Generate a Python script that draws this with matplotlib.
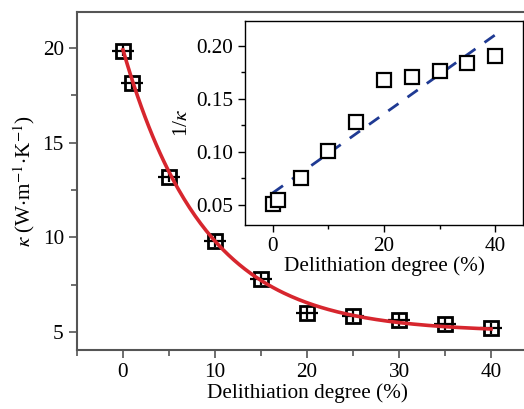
import numpy as np
import matplotlib
matplotlib.use('Agg')
import matplotlib.pyplot as plt
from matplotlib.ticker import MultipleLocator

plt.rcParams['font.family'] = ['Liberation Serif', 'DejaVu Serif']
plt.rcParams['mathtext.fontset'] = 'stix'
plt.rcParams['font.size'] = 15.3

# main panel: thermal conductivity vs delithiation degree
deg = [0, 1, 5, 10, 15, 20, 25, 30, 35, 40]
kappa = [19.85, 18.15, 13.2, 9.8, 7.8, 6.0, 5.85, 5.63, 5.42, 5.2]
# exponential decay fit  kappa = y0 + A*exp(-x/t)
fit_y0, fit_A, fit_t = 5.0, 14.9, 8.83

# inset: 1/kappa with linear fit
inv_kappa = [0.051, 0.055, 0.075, 0.101, 0.128, 0.168, 0.171, 0.176, 0.184, 0.191]
lin_b, lin_m = 0.0613, 0.00373

fig = plt.figure(figsize=(5.24, 4.09), dpi=100)
ax = fig.add_axes([77/524, 59/409, 460/524, 338/409])

xs = np.linspace(0, 40, 200)
ax.plot(xs, fit_y0 + fit_A*np.exp(-xs/fit_t), c='#d7262e', lw=2.6, zorder=3)
ax.errorbar(deg, kappa, xerr=1.2, yerr=0.3, fmt='s', ms=10, mfc='none',
            mec='black', mew=2.0, ecolor='black', elinewidth=1.6, capsize=0, zorder=2)

ax.set_xlim(-5, 45)
ax.set_ylim(4.05, 21.9)
ax.xaxis.set_major_locator(MultipleLocator(10))
ax.xaxis.set_minor_locator(MultipleLocator(5))
ax.yaxis.set_major_locator(MultipleLocator(5))
ax.yaxis.set_minor_locator(MultipleLocator(2.5))
ax.tick_params(which='both', direction='out', color='#555555', width=1.2)
ax.tick_params(which='major', length=6)
ax.tick_params(which='minor', length=4)
for s in ax.spines.values():
    s.set_color('#555555')
    s.set_linewidth(1.5)
ax.set_xlabel('Delithiation degree (%)', labelpad=1)
ax.set_ylabel(r'$\kappa$ (W$\cdot$m$^{-1}$$\cdot$K$^{-1}$)', labelpad=4)

# inset
ins = fig.add_axes([245/524, 184/409, 278/524, 204/409])
ins.plot(xs, lin_b + lin_m*xs, ls=(0, (4.5, 4)), c='#1f3a93', lw=2.0, zorder=2)
ins.plot(deg, inv_kappa, 's', ms=10, mfc='white', mec='black', mew=1.6, zorder=3)
ins.set_xlim(-5, 45)
ins.set_ylim(0.031, 0.2236)
ins.xaxis.set_major_locator(MultipleLocator(20))
ins.xaxis.set_minor_locator(MultipleLocator(10))
ins.yaxis.set_major_locator(MultipleLocator(0.05))
ins.yaxis.set_minor_locator(MultipleLocator(0.025))
ins.yaxis.set_major_formatter(plt.FormatStrFormatter('%.2f'))
ins.tick_params(which='both', direction='out', width=1.0)
ins.tick_params(which='major', length=5)
ins.tick_params(which='minor', length=3)
for s in ins.spines.values():
    s.set_linewidth(1.0)
ins.set_xlabel('Delithiation degree (%)', labelpad=0)
ins.set_ylabel(r'1/$\kappa$', labelpad=3)

fig.savefig('out.png', dpi=100)
